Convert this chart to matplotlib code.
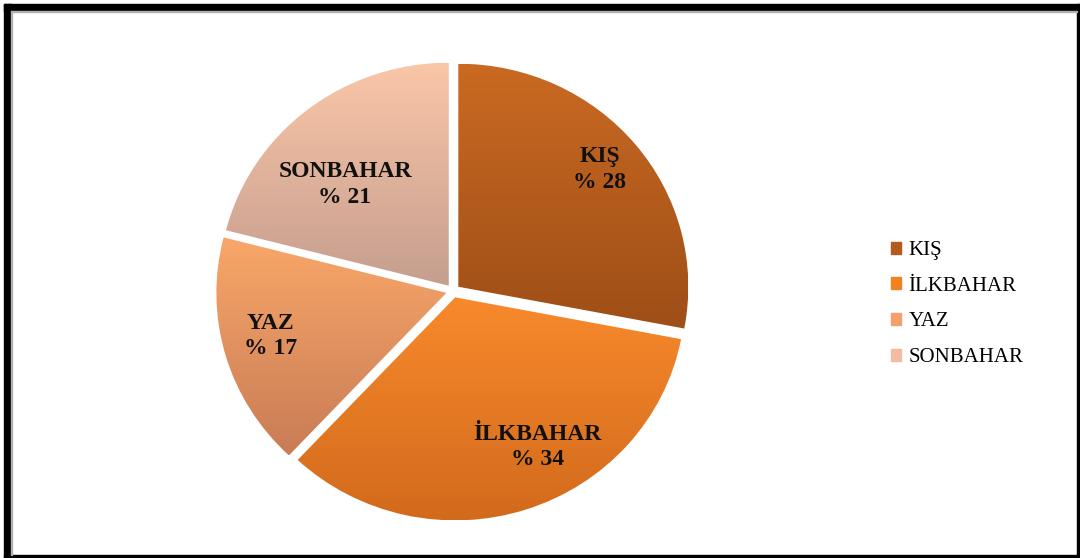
import numpy as np
import matplotlib
matplotlib.use('Agg')
import matplotlib.pyplot as plt
from matplotlib.patches import Rectangle
from matplotlib.colors import LinearSegmentedColormap

seasons = ['KIŞ', 'İLKBAHAR', 'YAZ', 'SONBAHAR']
shares = [28, 34, 17, 21]

# top / bottom colours of each wedge's gradient
top_cols = ['#CA6A22', '#F88A2C', '#F9A769', '#FAC6A8']
bot_cols = ['#9E4E17', '#D26A1C', '#C97C55', '#C59E8E']
legend_cols = ['#B25B1C', '#F2811F', '#F3A06C', '#F2BBA2']

# label placement inside each slice (radius fraction, angle shift in deg)
label_r = [0.81, 0.76, 0.79, 0.64]
label_shift = [1, 10, -2, 7]

plt.rcParams['font.family'] = ['Liberation Serif', 'DejaVu Serif']

W, H = 1080, 558
fig = plt.figure(figsize=(W / 100, H / 100), dpi=100)

# pie axes (slightly wider than tall, like the original)
cx, cy, rx, ry = 453, 291, 230, 223
lim = 1.1
ax = fig.add_axes([(cx - rx * lim) / W, (H - cy - ry * lim) / H,
                   2 * rx * lim / W, 2 * ry * lim / H])

wedges, texts = ax.pie(
    shares, startangle=90, counterclock=False, explode=[0.03] * 4,
    colors=legend_cols, radius=1.0,
    wedgeprops=dict(edgecolor='white', linewidth=1.2))
ax.set_aspect('auto')
ax.axis('off')

# vertical gradient in each wedge
grad = np.linspace(1, 0, 256).reshape(-1, 1)
for w, c1, c2 in zip(wedges, top_cols, bot_cols):
    cmap = LinearSegmentedColormap.from_list('g', [c2, c1])
    bb = w.get_path().get_extents(w.get_transform() + ax.transData.inverted())
    im = ax.imshow(grad, cmap=cmap, aspect='auto', origin='upper',
                   extent=[bb.x0, bb.x1, bb.y0, bb.y1], zorder=w.get_zorder() + 0.1)
    im.set_clip_path(w)
ax.set_xlim(-lim, lim)
ax.set_ylim(-lim, lim)

for w, name, val, r, sh in zip(wedges, seasons, shares, label_r, label_shift):
    ang = np.deg2rad((w.theta1 + w.theta2) / 2 + sh)
    x0, y0 = w.center
    ax.text(x0 + r * np.cos(ang), y0 + r * np.sin(ang), '%s\n%% %d' % (name, val),
            ha='center', va='center', fontsize=17, fontweight='bold',
            color='#111111', linespacing=1.3, zorder=5)

handles = [Rectangle((0, 0), 1, 1, color=c) for c in legend_cols]
fig.legend(handles, seasons, loc='center left', bbox_to_anchor=(872 / W, 1 - 304 / H),
           frameon=False, fontsize=15, handlelength=0.5, handleheight=0.5,
           handletextpad=0.35, labelspacing=0.8)

# picture frame
def frect(x0, y0, x1, y1, col):
    fig.patches.append(Rectangle((x0 / W, 1 - y1 / H), (x1 - x0) / W, (y1 - y0) / H,
                                 transform=fig.transFigure, color=col, zorder=10))

frect(4, 4, W, 10.5, 'black')
frect(4, 4, 11, H, 'black')
frect(1076.5, 4, W, H, 'black')
frect(4, 554.5, W, H, 'black')
frect(11, 10.5, 1076.5, 11.5, '#b0b0b0')
frect(11, 10.5, 12, 554.5, '#b0b0b0')

fig.savefig('out.png', dpi=100)
